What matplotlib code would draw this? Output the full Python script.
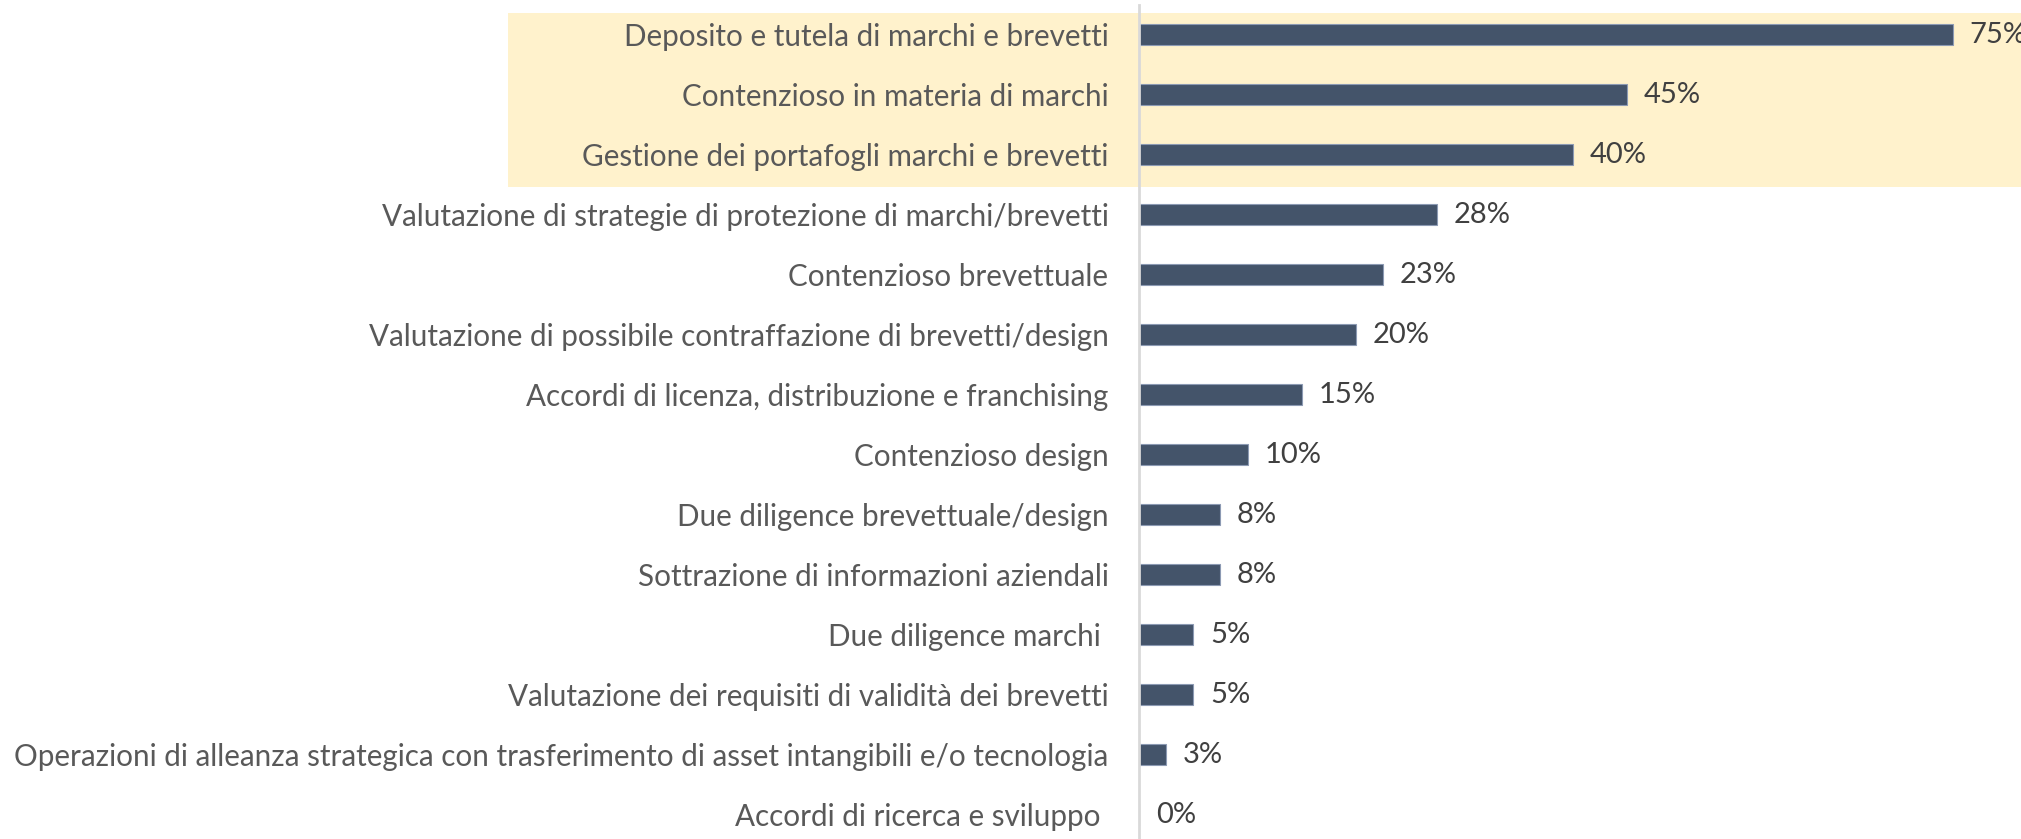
'''
Horizontal bar chart of IP services, first three rows highlighted
'''
import matplotlib
matplotlib.use('Agg')
import matplotlib.pyplot as plt
from matplotlib.patches import Rectangle
from matplotlib.transforms import blended_transform_factory

plt.rcParams['font.family'] = ['Lato', 'DejaVu Sans']

categories = [
    'Deposito e tutela di marchi e brevetti',
    'Contenzioso in materia di marchi',
    'Gestione dei portafogli marchi e brevetti',
    'Valutazione di strategie di protezione di marchi/brevetti',
    'Contenzioso brevettuale',
    'Valutazione di possibile contraffazione di brevetti/design',
    'Accordi di licenza, distribuzione e franchising',
    'Contenzioso design',
    'Due diligence brevettuale/design',
    'Sottrazione di informazioni aziendali',
    'Due diligence marchi ',
    'Valutazione dei requisiti di validità dei brevetti',
    'Operazioni di alleanza strategica con trasferimento di asset intangibili e/o tecnologia',
    'Accordi di ricerca e sviluppo ',
]
values      = [75, 45, 40, 27.5, 22.5, 20, 15, 10, 7.5, 7.5, 5, 5, 2.5, 0]
value_texts = ['75%', '45%', '40%', '28%', '23%', '20%', '15%', '10%', '8%', '8%', '5%', '5%', '3%', '0%']
highlighted = 3
# ---------------------------------
fig = plt.figure(figsize=(20.21, 8.39), dpi=100)
ax  = fig.add_axes([1139 / 2021, 0, 1 - 1139 / 2021, 1])
ax.patch.set_alpha(0)

pos  = list(range(len(categories)))
bars = ax.barh(pos, values, height=0.35, color='#44546A', edgecolor='#8C9AB3', linewidth=0.8, zorder=2)
ax.bar_label(bars, labels=value_texts, padding=12, fontsize=21, color='#404040')

ax.set_xlim(0, 81.27)
ax.set_ylim(13.4, -0.583)
ax.set_yticks(pos)
ax.set_yticklabels(categories, fontsize=21.3, color='#595959')
ax.tick_params(axis='y', length=0, pad=22)
ax.set_xticks([])

for side in ['top', 'right', 'bottom']:
    ax.spines[side].set_visible(False)
ax.spines['left'].set_color('#D9D9D9')
ax.spines['left'].set_linewidth(2)
ax.spines['left'].set_bounds(-0.5, 13.4)

trans = blended_transform_factory(fig.transFigure, ax.transData)
box   = Rectangle((508 / 2021, -0.367), 1 - 508 / 2021, highlighted - 0.1, transform=trans,
                  facecolor='#FFF2CC', edgecolor='none', clip_on=False, zorder=0.5)
ax.add_patch(box)

fig.savefig('out.png', dpi=100)
